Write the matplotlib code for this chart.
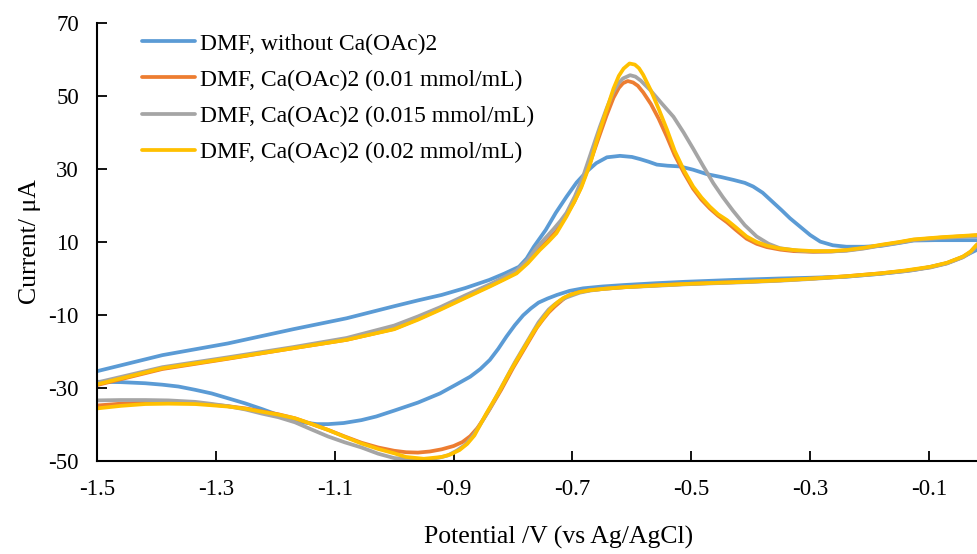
import numpy as np
import matplotlib
matplotlib.use("Agg")
import matplotlib.pyplot as plt
from matplotlib.ticker import FormatStrFormatter

plt.rcParams['font.family'] = ['Liberation Serif', 'DejaVu Serif']
plt.rcParams['axes.unicode_minus'] = False

# Cyclic voltammograms: potential (V) vs current (uA).
# fwd = scan towards positive potential (upper branch), rev = back scan.
labels = ['DMF, without Ca(OAc)2',
          'DMF, Ca(OAc)2 (0.01 mmol/mL)',
          'DMF, Ca(OAc)2 (0.015 mmol/mL)',
          'DMF, Ca(OAc)2 (0.02 mmol/mL)']
colors = ['#5B9BD5', '#ED7D31', '#A5A5A5', '#FFC000']

# --- without Ca(OAc)2
v_blank_fwd = [-1.50, -1.39, -1.28, -1.17, -1.08, -1.00, -0.96, -0.92, -0.88, -0.84,
               -0.815, -0.79, -0.777, -0.765, -0.755, -0.745, -0.728, -0.71, -0.693, -0.676,
               -0.66, -0.642, -0.62, -0.60, -0.586, -0.572, -0.558, -0.54, -0.519, -0.497,
               -0.474, -0.45, -0.429, -0.41, -0.396, -0.38, -0.362, -0.348, -0.334, -0.317,
               -0.30, -0.283, -0.262, -0.239, -0.21, -0.182, -0.155, -0.126, -0.09, -0.05,
               -0.02, 0.0]
i_blank_fwd = [-25.4, -21.0, -17.8, -13.9, -10.9, -7.6, -6.0, -4.5, -2.6, -0.4,
               1.3, 3.2, 5.5, 8.7, 11.0, 13.3, 18.0, 22.4, 26.3, 29.3,
               31.6, 33.2, 33.6, 33.3, 32.7, 32.0, 31.2, 30.9, 30.7, 29.8,
               28.6, 27.8, 27.0, 26.2, 25.2, 23.5, 20.8, 18.7, 16.5, 14.2,
               11.9, 10.1, 9.1, 8.7, 8.7, 8.9, 9.6, 10.4, 10.5, 10.5,
               10.5, 10.2]
v_blank_rev = [-0.02, -0.045, -0.07, -0.10, -0.126, -0.18, -0.239, -0.30, -0.351, -0.43,
               -0.51, -0.56, -0.614, -0.65, -0.682, -0.705, -0.726, -0.742, -0.757, -0.77,
               -0.783, -0.797, -0.811, -0.825, -0.839, -0.855, -0.872, -0.895, -0.923, -0.96,
               -1.00, -1.03, -1.055, -1.085, -1.111, -1.13, -1.15, -1.175, -1.195, -1.222,
               -1.251, -1.28, -1.307, -1.335, -1.363, -1.39, -1.419, -1.46, -1.50]
i_blank_rev = [7.8, 5.8, 4.2, 3.1, 2.3, 1.3, 0.5, 0.2, 0.0, -0.4,
               -0.9, -1.3, -1.8, -2.2, -2.7, -3.4, -4.5, -5.5, -6.6, -8.2,
               -10.1, -12.8, -15.9, -19.3, -22.3, -24.8, -26.9, -29.0, -31.5, -34.0,
               -36.2, -37.8, -38.8, -39.6, -39.9, -39.9, -39.5, -38.6, -37.4, -35.8,
               -34.2, -32.8, -31.5, -30.5, -29.6, -29.1, -28.7, -28.4, -28.3]

# --- 0.01 mmol/mL
v_010_fwd = [-1.50, -1.39, -1.28, -1.17, -1.08, -1.00, -0.96, -0.923, -0.88, -0.839,
             -0.815, -0.794, -0.775, -0.757, -0.742, -0.727, -0.71, -0.697, -0.687, -0.672,
             -0.656, -0.643, -0.631, -0.622, -0.615, -0.607, -0.598, -0.59, -0.581, -0.568,
             -0.555, -0.541, -0.528, -0.512, -0.497, -0.483, -0.469, -0.455, -0.44, -0.425,
             -0.407, -0.39, -0.373, -0.35, -0.328, -0.295, -0.265, -0.239, -0.21, -0.182,
             -0.15, -0.126, -0.08, -0.02, 0.0]
i_010_fwd = [-29.2, -24.8, -22.0, -19.1, -16.8, -13.8, -11.1, -8.4, -5.1, -2.0,
             -0.1, 1.7, 4.6, 8.0, 10.3, 13.0, 17.5, 21.0, 24.5, 31.0,
             38.5, 44.5, 49.5, 52.2, 53.5, 54.1, 53.7, 52.8, 51.0, 47.8,
             43.8, 38.8, 33.8, 28.8, 24.6, 21.6, 19.2, 17.2, 15.4, 13.3,
             10.9, 9.5, 8.6, 7.9, 7.5, 7.3, 7.4, 7.7, 8.3, 9.1,
             9.9, 10.6, 11.2, 11.8, 11.6]
v_010_rev = [-0.02, -0.03, -0.043, -0.07, -0.098, -0.14, -0.182, -0.24, -0.295, -0.35,
             -0.407, -0.46, -0.51, -0.56, -0.614, -0.645, -0.67, -0.688, -0.704, -0.712,
             -0.72, -0.73, -0.74, -0.75, -0.76, -0.78, -0.80, -0.82, -0.84, -0.85,
             -0.86, -0.872, -0.885, -0.90, -0.92, -0.94, -0.96, -0.98, -1.00, -1.027,
             -1.055, -1.083, -1.111, -1.14, -1.167, -1.195, -1.223, -1.25, -1.279, -1.31,
             -1.335, -1.38, -1.419, -1.46, -1.50]
i_010_rev = [9.1, 7.3, 5.9, 4.2, 3.1, 2.1, 1.4, 0.6, 0.0, -0.5,
             -0.9, -1.2, -1.5, -1.9, -2.4, -2.8, -3.2, -3.7, -4.5, -5.2,
             -6.3, -7.7, -9.3, -11.3, -13.5, -19.0, -24.5, -30.5, -36.0, -38.6,
             -41.0, -43.2, -44.8, -45.9, -46.8, -47.4, -47.7, -47.6, -47.2, -46.3,
             -45.0, -43.3, -41.5, -39.8, -38.3, -37.2, -36.4, -35.6, -35.0, -34.5,
             -34.2, -34.0, -34.0, -34.3, -34.8]

# --- 0.015 mmol/mL
v_015_fwd = [-1.50, -1.39, -1.28, -1.17, -1.08, -1.00, -0.96, -0.923, -0.88, -0.839,
             -0.815, -0.794, -0.776, -0.76, -0.746, -0.732, -0.72, -0.71, -0.696, -0.682,
             -0.668, -0.654, -0.642, -0.631, -0.622, -0.615, -0.603, -0.594, -0.585, -0.569,
             -0.55, -0.530, -0.513, -0.497, -0.48, -0.463, -0.447, -0.43, -0.41, -0.39,
             -0.37, -0.351, -0.32, -0.295, -0.265, -0.239, -0.21, -0.182, -0.15, -0.126,
             -0.08, -0.02, 0.0]
i_015_fwd = [-28.5, -24.3, -21.6, -18.8, -16.3, -12.9, -10.4, -7.9, -4.6, -1.6,
             0.4, 2.2, 5.0, 8.5, 11.0, 13.5, 15.8, 18.0, 22.5, 28.0,
             34.8, 41.5, 46.8, 51.2, 53.6, 54.8, 55.7, 55.3, 54.2, 51.6,
             48.0, 44.3, 40.0, 35.6, 30.8, 26.1, 22.3, 18.6, 14.6, 11.5,
             9.5, 8.3, 7.6, 7.4, 7.4, 7.6, 8.2, 9.0, 9.8, 10.5,
             11.1, 11.6, 11.4]
v_015_rev = [-0.02, -0.03, -0.043, -0.07, -0.098, -0.14, -0.182, -0.24, -0.295, -0.35,
             -0.407, -0.46, -0.51, -0.56, -0.614, -0.645, -0.67, -0.688, -0.70, -0.71,
             -0.72, -0.73, -0.74, -0.748, -0.757, -0.777, -0.797, -0.817, -0.837, -0.847,
             -0.857, -0.868, -0.88, -0.895, -0.91, -0.925, -0.94, -0.97, -1.00, -1.027,
             -1.055, -1.083, -1.111, -1.14, -1.167, -1.195, -1.223, -1.25, -1.279, -1.31,
             -1.335, -1.38, -1.419, -1.46, -1.50]
i_015_rev = [8.9, 7.1, 5.8, 4.1, 3.0, 2.0, 1.3, 0.5, -0.1, -0.6,
             -1.0, -1.3, -1.6, -2.0, -2.4, -2.8, -3.3, -3.9, -4.6, -5.2,
             -6.0, -7.1, -8.5, -10.1, -12.0, -17.5, -23.0, -29.0, -35.0, -37.8,
             -40.5, -43.2, -45.5, -47.2, -48.5, -49.1, -49.5, -49.6, -49.2, -48.0,
             -46.3, -44.9, -43.3, -41.3, -39.4, -38.0, -37.0, -35.9, -35.0, -34.3,
             -33.8, -33.4, -33.3, -33.3, -33.4]

# --- 0.02 mmol/mL
v_020_fwd = [-1.50, -1.39, -1.28, -1.17, -1.08, -1.00, -0.96, -0.923, -0.88, -0.839,
             -0.815, -0.794, -0.775, -0.755, -0.741, -0.727, -0.71, -0.697, -0.685, -0.67,
             -0.656, -0.643, -0.631, -0.622, -0.614, -0.604, -0.595, -0.588, -0.581, -0.568,
             -0.555, -0.541, -0.528, -0.512, -0.497, -0.483, -0.469, -0.455, -0.44, -0.425,
             -0.407, -0.39, -0.373, -0.35, -0.328, -0.295, -0.265, -0.239, -0.21, -0.182,
             -0.15, -0.126, -0.08, -0.02, 0.0]
i_020_fwd = [-29.0, -24.6, -21.9, -19.1, -16.8, -13.9, -11.3, -8.6, -5.3, -2.2,
             -0.3, 1.4, 4.2, 7.8, 10.0, 12.4, 17.0, 21.0, 25.0, 31.5,
             39.5, 46.0, 52.0, 55.5, 57.5, 58.9, 58.6, 57.6, 55.8, 51.5,
             46.5, 40.8, 35.0, 29.5, 25.2, 22.2, 19.7, 17.6, 16.0, 14.0,
             11.5, 10.0, 9.0, 8.2, 7.8, 7.5, 7.5, 7.8, 8.4, 9.2,
             10.0, 10.7, 11.3, 11.9, 11.8]
v_020_rev = [-0.02, -0.03, -0.043, -0.07, -0.098, -0.14, -0.182, -0.24, -0.295, -0.35,
             -0.407, -0.46, -0.51, -0.56, -0.614, -0.645, -0.67, -0.688, -0.704, -0.715,
             -0.725, -0.735, -0.745, -0.755, -0.765, -0.785, -0.805, -0.825, -0.845, -0.855,
             -0.865, -0.877, -0.89, -0.905, -0.92, -0.95, -0.98, -1.00, -1.027, -1.055,
             -1.083, -1.111, -1.14, -1.167, -1.195, -1.223, -1.25, -1.279, -1.31, -1.335,
             -1.38, -1.419, -1.46, -1.50]
i_020_rev = [9.2, 7.4, 6.0, 4.3, 3.2, 2.2, 1.4, 0.6, 0.0, -0.5,
             -0.9, -1.2, -1.5, -1.9, -2.4, -2.8, -3.2, -3.7, -4.5, -5.3,
             -6.5, -8.0, -10.0, -12.2, -14.5, -20.0, -25.5, -31.5, -37.0, -40.0,
             -43.0, -45.3, -47.0, -48.2, -48.9, -49.4, -48.9, -47.9, -46.7, -45.2,
             -43.4, -41.5, -39.8, -38.3, -37.3, -36.5, -35.7, -35.1, -34.7, -34.4,
             -34.3, -34.4, -34.9, -35.6]

potentials = [v_blank_fwd + v_blank_rev, v_010_fwd + v_010_rev,
              v_015_fwd + v_015_rev, v_020_fwd + v_020_rev]
currents = [i_blank_fwd + i_blank_rev, i_010_fwd + i_010_rev,
            i_015_fwd + i_015_rev, i_020_fwd + i_020_rev]

fig = plt.figure(figsize=(9.77, 5.54), dpi=100)
ax = fig.add_axes([0.0993, 0.1679, 0.9007, 0.7906])

for v, cur, lab, col in zip(potentials, currents, labels, colors):
    ax.plot(v, cur, color=col, lw=2.7, label=lab,
            solid_joinstyle='round', solid_capstyle='round')

ax.set_xlim(-1.5, -0.0193)
ax.set_ylim(-50, 70)
ax.set_xticks(np.round(np.arange(-1.5, 0.0, 0.2), 1))
ax.set_yticks(np.arange(-50, 71, 20))
ax.xaxis.set_major_formatter(FormatStrFormatter('%.1f'))
ax.tick_params(direction='in', length=7, width=1.3, labelsize=16.5, pad=13)

for side in ['top', 'right']:
    ax.spines[side].set_visible(False)
for side in ['left', 'bottom']:
    ax.spines[side].set_linewidth(1.5)

ax.set_xlabel('Potential /V (vs Ag/AgCl)', fontsize=18.5)
ax.xaxis.set_label_coords(0.524, -0.148)
ax.set_ylabel('Current/ μA', fontsize=18.5)
ax.yaxis.set_label_coords(-0.064, 0.5)

leg = ax.legend(loc='upper left', bbox_to_anchor=(0.051, 0.977), frameon=False,
                fontsize=17, handlelength=2.25, handletextpad=0.2, labelspacing=0.62,
                borderpad=0, borderaxespad=0)
for line in leg.get_lines():
    line.set_linewidth(2.7)

fig.savefig('out.png', dpi=100)
